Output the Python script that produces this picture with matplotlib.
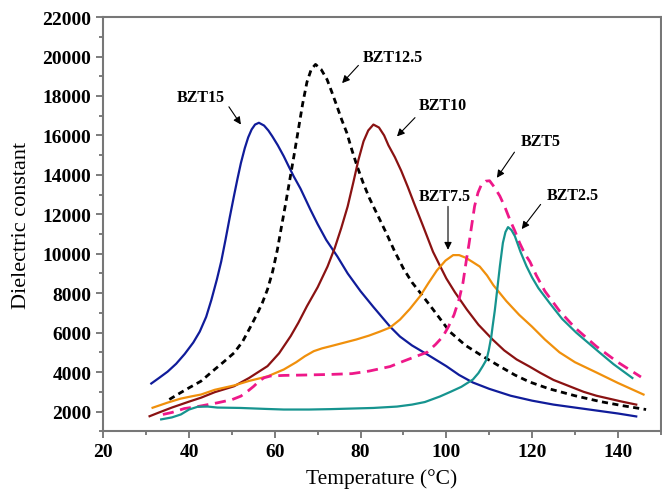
import matplotlib
matplotlib.use("Agg")
import matplotlib.pyplot as plt
from matplotlib.ticker import MultipleLocator

plt.rcParams['font.family'] = ['Liberation Serif', 'DejaVu Serif']

# BZT15
t15 = [31.2, 33, 35, 37, 39, 41, 42.5, 44, 45.2, 46.5, 47.5, 48.5, 49.5, 50.5, 51.3, 52.1, 53, 53.8, 54.6,
       55.4, 56.3, 57.5, 58.5, 59.4, 60.7, 62.1, 63.2, 64.4, 66, 68.3, 70, 72, 74.6, 77, 80, 83, 86.9, 89.2,
       92, 95.5, 100, 103, 106.2, 110, 115, 120, 125, 130, 135, 140, 144.3]
d15 = [3420, 3700, 4020, 4420, 4920, 5500, 6050, 6800, 7650, 8700, 9600, 10700, 11850, 12950, 13800, 14600,
       15350, 15900, 16300, 16550, 16640, 16500, 16250, 15960, 15500, 14940, 14450, 13930, 13300, 12240,
       11500, 10700, 9860, 9000, 8100, 7300, 6300, 5800, 5350, 4900, 4300, 3850, 3470, 3150, 2800, 2550,
       2350, 2200, 2050, 1900, 1750]

# BZT12.5
t125 = [35.4, 38, 40, 42.8, 45.8, 48, 50.5, 52.5, 54.4, 56, 57.1, 58.3, 59.5, 60.6, 61.5, 62.5, 63.5, 64.5,
        65.5, 66.5, 67.5, 68.5, 69.5, 70.8, 72.2, 73.3, 74.5, 75.6, 76.8, 78, 79.2, 80.6, 82, 84, 86, 88, 90,
        92, 94, 97, 100.8, 104.5, 108.5, 112, 116, 119.4, 124, 130, 136, 141, 146.6]
d125 = [2610, 2950, 3200, 3540, 4100, 4500, 4970, 5550, 6320, 7000, 7510, 8190, 9100, 10200, 11300, 12500,
        13750, 15000, 16300, 17600, 18700, 19350, 19600, 19350, 18830, 18200, 17480, 16800, 16130, 15250,
        14440, 13600, 12850, 11950, 11050, 10100, 9250, 8550, 8000, 7150, 6050, 5350, 4800, 4350, 3850,
        3500, 3150, 2800, 2500, 2300, 2100]

# BZT10
t10 = [30.8, 33, 36, 40, 42.8, 46, 50.5, 54, 58.3, 61, 63.7, 65.5, 67.5, 70, 72.3, 74, 75.5, 77, 78.3, 79.5,
       80.7, 81.8, 83, 84.3, 85.5, 86.5, 88, 89.5, 91, 92.5, 94.5, 96.9, 98.5, 100, 102, 104.8, 107.5, 110.8,
       113.5, 116.4, 119.4, 122, 125, 128.5, 132, 135, 138, 141, 144.3]
d10 = [1760, 1950, 2200, 2500, 2700, 2980, 3280, 3700, 4300, 4950, 5820, 6500, 7340, 8300, 9350, 10300,
       11300, 12400, 13600, 14750, 15700, 16250, 16550, 16400, 16000, 15500, 14900, 14200, 13400, 12550,
       11450, 10100, 9400, 8750, 8050, 7170, 6400, 5650, 5100, 4640, 4280, 3950, 3600, 3300, 3000, 2800,
       2650, 2500, 2350]

# BZT7.5
t75 = [31.5, 35, 38, 40.4, 42.8, 46, 50.5, 54, 58.3, 62.1, 65, 67, 69.1, 71, 73, 76, 79, 82, 84.5, 86.9,
       89.2, 91.5, 93.9, 95.8, 97.8, 99.8, 101.6, 103, 104.5, 106, 107.8, 109.5, 111, 114, 117, 120, 123,
       126.4, 130, 135, 140, 146]
d75 = [2190, 2450, 2650, 2760, 2860, 3100, 3320, 3550, 3780, 4130, 4500, 4800, 5060, 5200, 5310, 5480, 5650,
       5850, 6050, 6260, 6660, 7200, 7850, 8500, 9150, 9650, 9930, 9930, 9800, 9600, 9350, 8900, 8400,
       7600, 6900, 6300, 5650, 5000, 4500, 3980, 3450, 2860]

# BZT5
t5 = [33.9, 36, 38.9, 42, 46.6, 50, 52.1, 53.8, 55.1, 56.4, 57.5, 59, 62.1, 67, 73, 78, 82, 86.9, 90, 93,
      95.5, 97.5, 99.2, 100.5, 101.8, 103, 103.9, 104.7, 105.3, 105.9, 106.6, 107.4, 108.2, 109.2, 110.1,
      111.3, 112.5, 113.7, 114.8, 116, 117.1, 118.3, 119.5, 121, 123, 126.4, 130, 135, 140, 145.4]
d5 = [1850, 1950, 2150, 2250, 2440, 2600, 2780, 3050, 3280, 3550, 3710, 3800, 3830, 3850, 3880, 3920, 4050,
      4280, 4550, 4800, 5000, 5400, 5800, 6300, 6900, 7700, 8540, 9700, 10500, 11400, 12410, 13100, 13510,
      13680, 13700, 13350, 12920, 12350, 11740, 11150, 10550, 10000, 9600, 8900, 8100, 7100, 6250, 5300,
      4500, 3750]

# BZT2.5
t25 = [33.5, 36, 38.1, 40, 42, 44.4, 46.6, 52, 58, 62.1, 68, 73, 78, 83, 88.5, 92, 95, 98.5, 101, 103.5,
       106.2, 107.5, 108.5, 109.4, 109.9, 110.5, 110.8, 111.3, 111.8, 112.5, 113.2, 113.8, 114.4, 115.2, 116,
       117.3, 118.7, 120, 121.5, 124.1, 127, 130.3, 133, 135.7, 139, 143.4]
d25 = [1600, 1700, 1850, 2100, 2240, 2250, 2200, 2180, 2130, 2100, 2100, 2120, 2150, 2180, 2250, 2350, 2480,
       2760, 3000, 3250, 3620, 3950, 4300, 4640, 5100, 5800, 6310, 7100, 8030, 9370, 10550, 11100, 11350,
       11200, 10890, 10100, 9370, 8800, 8250, 7500, 6700, 6000, 5500, 5000, 4400, 3700]

labels = ["BZT15", "BZT12.5", "BZT10", "BZT7.5", "BZT5", "BZT2.5"]
label_xy = [(42.8, 17950), (87.6, 20000), (99.2, 17550), (99.7, 12950), (122, 15700), (129.4, 13000)]
arrow_tail = [(49.3, 17450), (79.5, 19550), (92.7, 16900), (100.4, 12400), (115.9, 15150), (122, 12500)]
arrow_head = [(52.1, 16550), (75.7, 18650), (88.5, 15950), (100.4, 10200), (111.8, 13850), (117.6, 11250)]

fig = plt.figure(figsize=(6.62, 5.02), dpi=100)
ax = fig.add_axes([0.156, 0.139, 0.842, 0.825])

ax.plot(t15, d15, color='#101c9a', lw=1.6)
ax.plot(t125, d125, color='black', lw=2.0, dashes=(2.2, 1.6))
ax.plot(t10, d10, color='#8a1212', lw=1.6)
ax.plot(t75, d75, color='#f0900c', lw=1.6)
ax.plot(t5, d5, color='#ee1889', lw=2.0, dashes=(4.0, 2.4))
ax.plot(t25, d25, color='#16948f', lw=1.6)

for lab, pos, tail, head in zip(labels, label_xy, arrow_tail, arrow_head):
    ax.text(pos[0], pos[1], lab, ha='center', va='center', fontsize=11.5, fontweight='bold')
    ax.annotate('', xy=head, xytext=tail,
                arrowprops=dict(arrowstyle='-|>', color='black', lw=0.8, mutation_scale=11,
                                shrinkA=0, shrinkB=0))

ax.set_xlim(20, 150)
ax.set_ylim(1000, 22000)
ax.xaxis.set_major_locator(MultipleLocator(20))
ax.xaxis.set_minor_locator(MultipleLocator(10))
ax.yaxis.set_major_locator(MultipleLocator(2000))
ax.yaxis.set_minor_locator(MultipleLocator(1000))
ax.tick_params(which='both', direction='out', color='#666666', width=1.2, labelsize=14)
ax.tick_params(which='major', length=5)
ax.tick_params(which='minor', length=3)
for lbl in ax.get_xticklabels() + ax.get_yticklabels():
    lbl.set_fontweight('bold')
for sp in ax.spines.values():
    sp.set_color('#777777')
    sp.set_linewidth(1.5)

ax.set_xlabel("Temperature (°C)", fontsize=15.5, labelpad=6)
ax.set_ylabel("Dielectric constant", fontsize=16, labelpad=8)

fig.savefig("out.png", dpi=100)
